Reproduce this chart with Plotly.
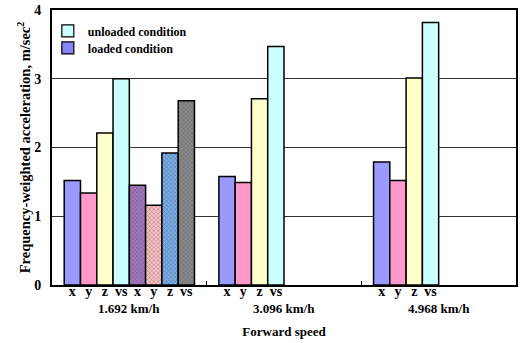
import plotly.graph_objects as go

# Whole-body vibration (frequency-weighted r.m.s. acceleration) by forward speed
speeds = ["1.692 km/h", "3.096 km/h", "4.968 km/h"]
axes_labels = ["x", "y", "z", "vs"]
y_ticks = [0, 1, 2, 3, 4]

# unloaded condition, one list per speed: x, y, z, vector sum
unloaded_1692 = [1.52, 1.34, 2.21, 3.00]
unloaded_3096 = [1.58, 1.49, 2.71, 3.47]
unloaded_4968 = [1.79, 1.52, 3.01, 3.82]
# loaded condition, measured at the lowest speed only
loaded_1692 = [1.45, 1.16, 1.92, 2.68]

unloaded_colors = ["#9999FF", "#FF99CC", "#FFFFCC", "#CCFFFF"]
loaded_colors = ["#A577C2", "#FFC2C2", "#78AEEA", "#8A8A8A"]
loaded_fg = ["#7A4E96", "#F4A0A0", "#4F86CC", "#5A5A5A"]

FONT = "Liberation Serif"
SLOTS = 8          # bars per speed group
GROUP_W = 9.5      # width of one speed category in bar units
PAD = (GROUP_W - SLOTS) / 2


def slot_pos(group, slot):
    return group * GROUP_W + PAD + slot + 0.5


def bold(s):
    return f"<b>{s}</b>"


fig = go.Figure()

unloaded = [unloaded_1692, unloaded_3096, unloaded_4968]
ux, uy, uc = [], [], []
for g, vals in enumerate(unloaded):
    for k, v in enumerate(vals):
        ux.append(slot_pos(g, k))
        uy.append(v)
        uc.append(unloaded_colors[k])

fig.add_trace(go.Bar(
    x=ux, y=uy, width=1.0, showlegend=False,
    marker=dict(color=uc, line=dict(color="black", width=1.5)),
))

lx = [slot_pos(0, 4 + k) for k in range(len(loaded_1692))]
fig.add_trace(go.Bar(
    x=lx, y=loaded_1692, width=1.0, showlegend=False,
    marker=dict(
        color=loaded_colors,
        line=dict(color="black", width=1.5),
        pattern=dict(shape="x", size=3, solidity=0.35,
                     fgcolor=loaded_fg, fillmode="overlay"),
    ),
))

# legend entries, one legend box each so they can be placed freely
fig.add_trace(go.Bar(
    x=[None], y=[None], name=bold("unloaded condition"), legend="legend",
    marker=dict(color="#CCFFFF", line=dict(color="black", width=1.2)),
))
fig.add_trace(go.Bar(
    x=[None], y=[None], name=bold("loaded condition"), legend="legend2",
    marker=dict(color="#8C8CFF", line=dict(color="black", width=1.2),
                pattern=dict(shape="x", size=3, solidity=0.35,
                             fgcolor="#5C5CD6", fillmode="overlay")),
))

# tick labels under each bar
tickvals, ticktext = [], []
for g in range(len(speeds)):
    n = SLOTS if g == 0 else len(axes_labels)
    for k in range(n):
        tickvals.append(slot_pos(g, k))
        ticktext.append(bold(axes_labels[k % len(axes_labels)]))

for g, s in enumerate(speeds):
    fig.add_annotation(
        x=g * GROUP_W + GROUP_W / 2, y=0, xref="x", yref="paper",
        yshift=-23, yanchor="middle", text=bold(s), showarrow=False,
        font=dict(family=FONT, size=13, color="black"),
    )

legend_font = dict(family=FONT, size=12, color="black")
fig.update_layout(
    width=523, height=343,
    margin=dict(l=52, r=7, t=10, b=58),
    paper_bgcolor="white", plot_bgcolor="white",
    barmode="overlay",
    font=dict(family=FONT, color="black"),
    legend=dict(x=-0.009, y=0.924, xanchor="left", yanchor="middle",
                bgcolor="rgba(0,0,0,0)", font=legend_font),
    legend2=dict(x=-0.009, y=0.862, xanchor="left", yanchor="middle",
                 bgcolor="rgba(0,0,0,0)", font=legend_font),
    xaxis=dict(
        range=[0, GROUP_W * len(speeds)], automargin=False,
        tickvals=tickvals, ticktext=ticktext,
        ticks="", ticklabelstandoff=-8,
        tickfont=dict(family=FONT, size=14, color="black"),
        showgrid=False, zeroline=False,
        showline=True, mirror=True, linecolor="black", linewidth=2,
        minor=dict(tickvals=[GROUP_W * g for g in range(1, len(speeds))],
                   ticks="inside", ticklen=4, tickcolor="black", tickwidth=1,
                   showgrid=False),
        title=dict(text=bold("Forward speed"), standoff=29,
                   font=dict(family=FONT, size=13, color="black")),
    ),
    yaxis=dict(
        range=[0, 4], automargin=False,
        tickvals=y_ticks, ticktext=[bold(v) for v in y_ticks],
        ticks="", ticklabelstandoff=6,
        tickfont=dict(family=FONT, size=14, color="black"),
        showgrid=True, gridcolor="#333333", gridwidth=1,
        zeroline=False,
        showline=True, mirror=True, linecolor="black", linewidth=2,
        title=dict(text=bold("Frequency-weighted acceleration, m/sec<sup>2</sup>"),
                   standoff=0,
                   font=dict(family=FONT, size=14.5, color="black")),
    ),
)

fig.write_html("out.html")
